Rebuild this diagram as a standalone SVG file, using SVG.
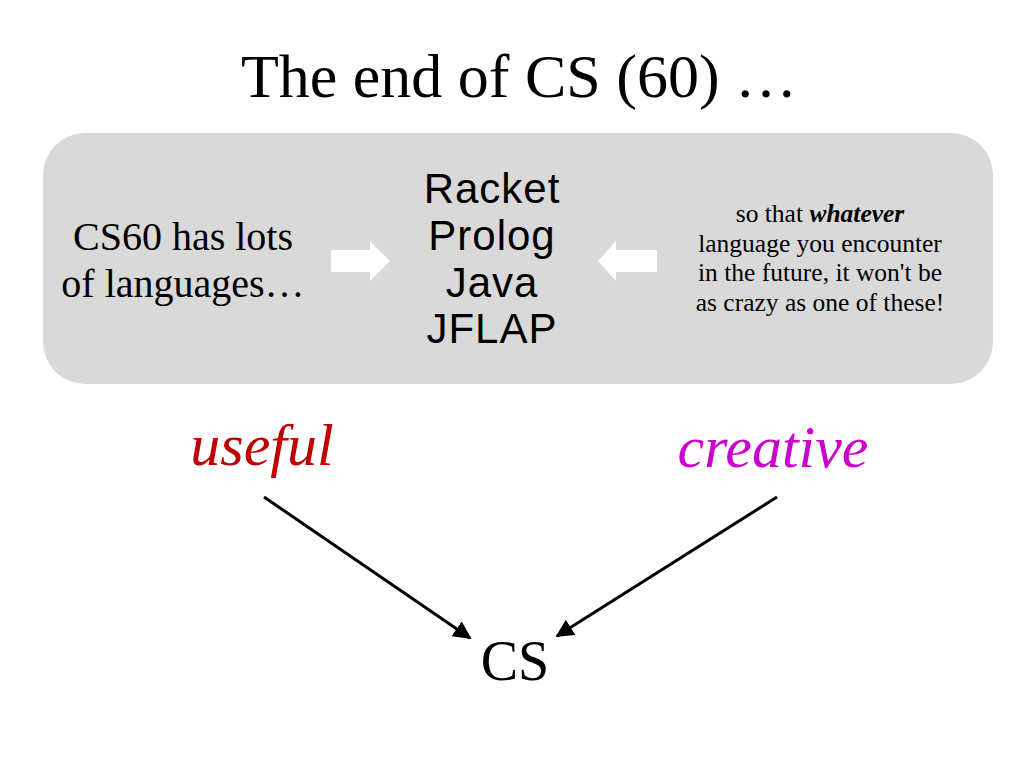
<svg xmlns="http://www.w3.org/2000/svg" width="1024" height="768" viewBox="0 0 1024 768">
<style>
.serif{font-family:"Liberation Serif","DejaVu Serif",serif;fill:#000}
.sans{font-family:"Liberation Sans","Arial",sans-serif;fill:#000}
.conn{stroke:#000;stroke-width:3;fill:none;marker-end:url(#ah)}
</style>
<defs>
<marker id="ah" viewBox="0 0 10 10" refX="9" refY="5" markerWidth="6" markerHeight="6" orient="auto" markerUnits="strokeWidth">
<path d="M0,0 L10,5 L0,10 z" fill="#000"/>
</marker>
</defs>
<rect width="1024" height="768" fill="#fff"/>
<g id="title"><text class="serif" x="519" y="97" font-size="62" text-anchor="middle">The end of CS (60) …</text></g>
<g id="panel">
<rect x="43" y="133" width="950" height="251" rx="42" ry="42" fill="#d9d9d9"/>
</g>
<g id="left-text"><text class="serif" font-size="40" text-anchor="middle"><tspan x="183" y="250">CS60 has lots</tspan><tspan x="183" y="297">of languages…</tspan></text></g>
<g id="arrow-right"><polygon points="331,250 370,250 370,241 390,261 370,281 370,272 331,272" fill="#fff"/></g>
<g id="languages"><text class="sans" font-size="42" letter-spacing="1" text-anchor="middle"><tspan x="492" y="203">Racket</tspan><tspan x="492" y="250">Prolog</tspan><tspan x="492" y="297">Java</tspan><tspan x="492" y="343">JFLAP</tspan></text></g>
<g id="arrow-left"><polygon points="657,250 616,250 616,241 598,261 616,281 616,272 657,272" fill="#fff"/></g>
<g id="right-text"><text class="serif" font-size="25.5" text-anchor="middle"><tspan x="820" y="222">so that <tspan font-weight="bold" font-style="italic">whatever</tspan></tspan><tspan x="820" y="252">language you encounter</tspan><tspan x="820" y="281">in the future, it won't be</tspan><tspan x="820" y="311">as crazy as one of these!</tspan></text></g>
<g id="useful"><text class="serif" x="262" y="465" font-size="60" font-style="italic" text-anchor="middle" style="fill:#c00000">useful</text></g>
<g id="creative"><text class="serif" x="773" y="467" font-size="60" font-style="italic" text-anchor="middle" style="fill:#cc00cc">creative</text></g>
<g id="cs"><text class="serif" x="515" y="680" font-size="56" text-anchor="middle">CS</text></g>
<g id="connectors">
<line class="conn" x1="264" y1="497" x2="470" y2="638"/>
<line class="conn" x1="777" y1="497" x2="557" y2="636"/>
</g>
</svg>
